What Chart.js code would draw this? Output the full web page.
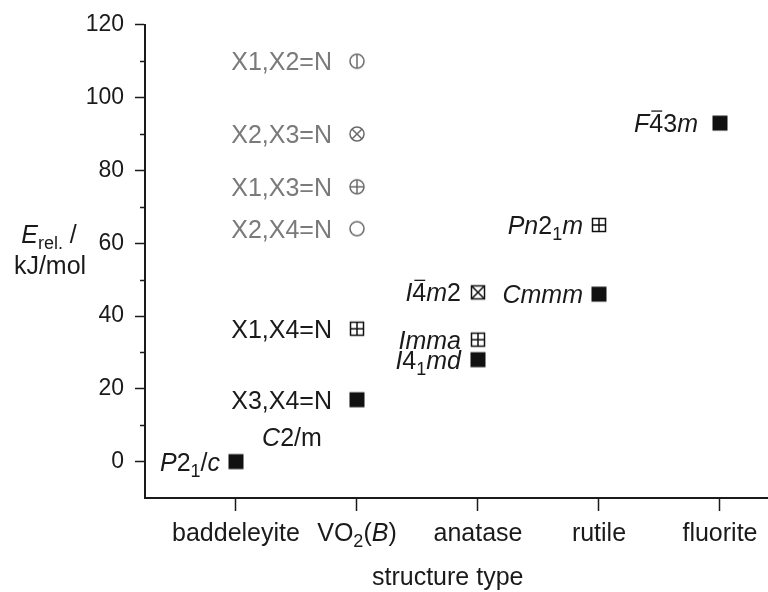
<!DOCTYPE html>
<html>
<head>
<meta charset="utf-8">
<script src="https://cdn.jsdelivr.net/npm/chart.js@4"></script>
<style>
  html, body { margin: 0; padding: 0; background: #fff; }
  #wrap { width: 768px; height: 592px; }
</style>
</head>
<body>
<div id="wrap"><canvas id="energyChart" width="768" height="592"></canvas></div>
<script>
// structure types along the x axis (markup: *italic*, _sub, ~overbar)
const structureTypes = ['baddeleyite', 'VO_2(*B*)', 'anatase', 'rutile', 'fluorite'];
const yTicks = [0, 20, 40, 60, 80, 100, 120];
const yMinorTicks = [10, 30, 50, 70, 90, 110];

// one entry per computed phase
const phaseNames = ['*P*2_1/*c*', 'X3,X4=N', 'X1,X4=N', 'X2,X4=N', 'X1,X3=N', 'X2,X3=N', 'X1,X2=N',
                    '*I*~4*m*2', '*Imma*', '*I*4_1*md*', '*Pn*2_1*m*', '*Cmmm*', '*F*~43*m*'];
const phaseStructure = [0, 1, 1, 1, 1, 1, 1, 2, 2, 2, 3, 3, 4];
const phaseEnergy = [0, 17, 36.5, 64, 75.5, 90, 110, 46.5, 33.5, 28, 65, 46, 93];
const phaseSymbol = ['filled', 'filled', 'boxPlus', 'circle', 'circlePlus', 'circleCross', 'circleBar',
                     'boxCross', 'boxPlus', 'filled', 'boxPlus', 'filled', 'filled'];

const FONT = '"Liberation Sans", Arial, sans-serif';
const INK = '#1a1a1a';
const MUTED = '#7a7a7a';
const TEXT_SIZE = 25;
const mutedPhases = [3, 4, 5, 6];   // the higher-energy VO2(B) variants are greyed out

// gap between a label's right edge and its marker, per structure column
const labelGap = [-16, -25, -17, -16, -22];
const extraLabels = [{ text: '*C*2/m', at: 1, dx: -65, dy: 37, align: 'center' }];

function parseRich(src) {
    const runs = [];
    let italic = false;
    let i = 0;
    while (i < src.length) {
        const c = src[i];
        if (c === '*') { italic = !italic; i++; continue; }
        if (c === '_' || c === '~') {
            let t;
            if (src[i + 1] === '{') {
                const j = src.indexOf('}', i);
                t = src.slice(i + 2, j);
                i = j + 1;
            } else {
                t = src[i + 1];
                i += 2;
            }
            runs.push({ t, italic, sub: c === '_', bar: c === '~' });
            continue;
        }
        const last = runs[runs.length - 1];
        if (last && !last.sub && !last.bar && last.italic === italic) last.t += c;
        else runs.push({ t: c, italic, sub: false, bar: false });
        i++;
    }
    return runs;
}

function drawRich(ctx, src, x, y, size, align, color) {
    const runs = parseRich(src);
    const fontFor = r => `${r.italic ? 'italic ' : ''}${r.sub ? Math.round(size * 0.7) : size}px ${FONT}`;
    let w = 0;
    runs.forEach(r => { ctx.font = fontFor(r); r.w = ctx.measureText(r.t).width; w += r.w; });
    let cx = align === 'right' ? x - w : align === 'center' ? x - w / 2 : x;
    const base = y + size * 0.36;
    ctx.fillStyle = color;
    ctx.strokeStyle = color;
    ctx.textBaseline = 'alphabetic';
    ctx.textAlign = 'left';
    runs.forEach(r => {
        ctx.font = fontFor(r);
        ctx.fillText(r.t, cx, r.sub ? base + size * 0.25 : base);
        if (r.bar) {
            ctx.lineWidth = 1.3;
            ctx.beginPath();
            ctx.moveTo(cx + 2, base - size * 0.84);
            ctx.lineTo(cx + r.w - 1, base - size * 0.84);
            ctx.stroke();
        }
        cx += r.w;
    });
}

// small canvases used as point styles
function makeSymbol(kind, color) {
    const s = 18;
    const c = document.createElement('canvas');
    c.width = c.height = s;
    const g = c.getContext('2d');
    const m = s / 2;
    g.strokeStyle = color;
    g.fillStyle = color;
    g.lineWidth = 1.5;
    if (kind === 'filled') {
        g.fillRect(m - 7.5, m - 7.5, 15, 15);
        return c;
    }
    if (kind.startsWith('circle')) {
        const r = 7;
        g.beginPath(); g.arc(m, m, r, 0, Math.PI * 2); g.stroke();
        g.beginPath();
        if (kind === 'circleBar' || kind === 'circlePlus') { g.moveTo(m, m - r); g.lineTo(m, m + r); }
        if (kind === 'circlePlus') { g.moveTo(m - r, m); g.lineTo(m + r, m); }
        if (kind === 'circleCross') {
            const d = r * 0.72;
            g.moveTo(m - d, m - d); g.lineTo(m + d, m + d);
            g.moveTo(m + d, m - d); g.lineTo(m - d, m + d);
        }
        g.stroke();
        return c;
    }
    const h = 6.5;
    g.strokeRect(m - h, m - h, 2 * h, 2 * h);
    g.beginPath();
    if (kind === 'boxPlus') {
        g.moveTo(m, m - h); g.lineTo(m, m + h);
        g.moveTo(m - h, m); g.lineTo(m + h, m);
    } else if (kind === 'boxCross') {
        g.moveTo(m - h, m - h); g.lineTo(m + h, m + h);
        g.moveTo(m + h, m - h); g.lineTo(m - h, m + h);
    }
    g.stroke();
    return c;
}

const symbols = phaseSymbol.map((k, i) => makeSymbol(k, mutedPhases.includes(i) ? '#6a6a6a' : '#111'));

const annotations = {
    id: 'annotations',
    afterDraw(chart) {
        const { ctx, scales: { x, y }, chartArea } = chart;
        ctx.save();

        // minor ticks on the energy axis
        ctx.strokeStyle = INK;
        ctx.lineWidth = 1.5;
        yMinorTicks.forEach(v => {
            const py = Math.round(y.getPixelForValue(v)) + 0.5;
            ctx.beginPath();
            ctx.moveTo(chartArea.left - 5, py);
            ctx.lineTo(chartArea.left, py);
            ctx.stroke();
        });

        // structure type labels under the ticks
        structureTypes.forEach((name, i) => {
            drawRich(ctx, name, x.getPixelForValue(i), chartArea.bottom + 34, TEXT_SIZE, 'center', INK);
        });
        drawRich(ctx, 'structure type', x.getPixelForValue(1.75), chartArea.bottom + 78, TEXT_SIZE, 'center', INK);

        // energy axis title, written horizontally on two lines
        drawRich(ctx, '*E*_{rel.} /', 49, 234, TEXT_SIZE, 'center', INK);
        drawRich(ctx, 'kJ/mol', 50, 265, TEXT_SIZE, 'center', INK);

        // phase labels next to their markers
        const pts = chart.getDatasetMeta(0).data;
        phaseNames.forEach((name, i) => {
            const p = pts[i];
            const col = mutedPhases.includes(i) ? MUTED : INK;
            drawRich(ctx, name, p.x + labelGap[phaseStructure[i]], p.y, TEXT_SIZE, 'right', col);
        });
        extraLabels.forEach(l => {
            const p = pts[l.at];
            drawRich(ctx, l.text, p.x + l.dx, p.y + l.dy, TEXT_SIZE, l.align, INK);
        });
        ctx.restore();
    }
};

new Chart(document.getElementById('energyChart'), {
    type: 'scatter',
    data: {
        datasets: [{
            data: phaseStructure.map((s, i) => ({ x: s, y: phaseEnergy[i] })),
            pointStyle: ctx => symbols[ctx.dataIndex],
            pointRadius: 9,
            pointHoverRadius: 9
        }]
    },
    options: {
        responsive: false,
        animation: false,
        events: [],
        layout: { autoPadding: false, padding: { top: 23, right: 0, left: 0, bottom: 0 } },
        plugins: { legend: { display: false }, tooltip: { enabled: false } },
        scales: {
            x: {
                type: 'linear',
                min: -0.752,
                max: 4.397,
                afterBuildTicks: s => { s.ticks = structureTypes.map((_, i) => ({ value: i })); },
                afterFit: s => { s.height = 94; },
                ticks: { display: false },
                grid: { drawOnChartArea: false, drawTicks: true, tickLength: 13, tickColor: INK, tickWidth: 1.5 },
                border: { color: INK, width: 2 }
            },
            y: {
                type: 'linear',
                min: -10,
                max: 120,
                afterBuildTicks: s => { s.ticks = yTicks.map(v => ({ value: v })); },
                afterFit: s => { s.width = 145; },
                ticks: { font: { family: FONT, size: 23 }, color: INK, padding: 11 },
                grid: { drawOnChartArea: false, drawTicks: true, tickLength: 10, tickColor: INK, tickWidth: 1.5 },
                border: { color: INK, width: 2 }
            }
        }
    },
    plugins: [annotations]
});
</script>
</body>
</html>
